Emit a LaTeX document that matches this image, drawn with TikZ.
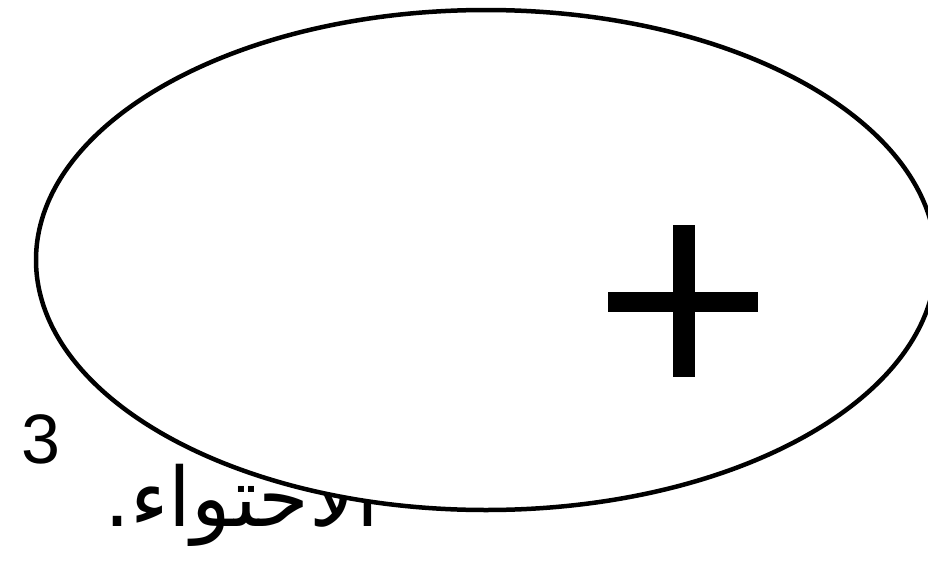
\documentclass[tikz,border=0pt]{standalone}
\usepackage{fontspec}
\TeXXeTstate=1
\newfontfamily\arabicfont[Script=Arabic]{DejaVu Sans}
\newfontfamily\numfont{Liberation Sans}
\begin{document}
\begin{tikzpicture}[x=1pt,y=-1pt,
  shapeline/.style={line width=4.5pt,draw=black},
  plusbar/.style={fill=black,draw=none}]
\useasboundingbox (0,0) rectangle (928,562);
\clip (0,0) rectangle (928,562);
% caption text (drawn first, partly covered by the ellipse)
\node[anchor=base west,inner sep=0pt] (txt) at (104,526)
  {\fontsize{82}{88}\selectfont\arabicfont\beginR الاحتواء.\endR};
\node[anchor=center,inner sep=0pt] (num) at (41,439)
  {\fontsize{70}{80}\selectfont\numfont 3};
% ellipse, filled white over the text
\draw[shapeline,fill=white] (486,260) ellipse [x radius=450, y radius=250];
% plus sign
\coordinate (pc) at (684,302);
\fill[plusbar] (608,292) rectangle (758,312);
\fill[plusbar] (673,225) rectangle (695,377);
\end{tikzpicture}
\end{document}
